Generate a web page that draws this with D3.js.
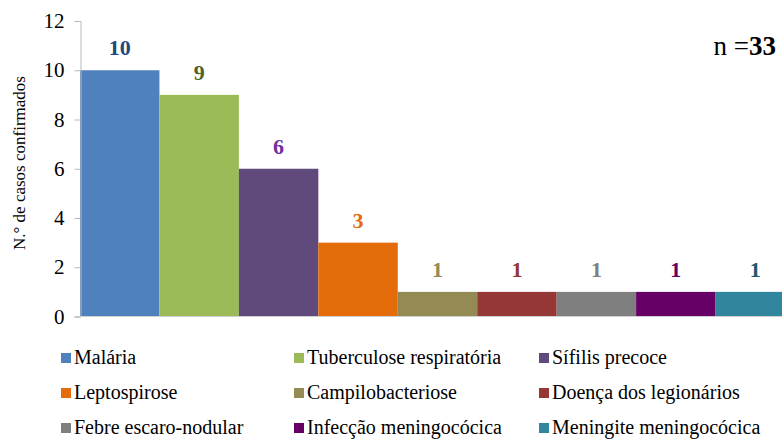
<!DOCTYPE html>
<html>
<head>
<meta charset="utf-8">
<script src="https://cdn.jsdelivr.net/npm/d3@7"></script>
</head>
<body style="margin:0">
<script>
// data
var diseases = ["Malária", "Tuberculose respiratória", "Sífilis precoce", "Leptospirose",
  "Campilobacteriose", "Doença dos legionários", "Febre escaro-nodular",
  "Infecção meningocócica", "Meningite meningocócica"];
var cases = [10, 9, 6, 3, 1, 1, 1, 1, 1];
var yTicks = [0, 2, 4, 6, 8, 10, 12];
var totalN = 33;

var barColors = ["#4F81BD", "#9BBB59", "#604A7B", "#E46C0A", "#948A54", "#953735", "#7F7F7F", "#660066", "#31859C"];
var labelColors = ["#1F497D", "#4F6228", "#7030A0", "#E46C0A", "#948A54", "#953735", "#7F7F7F", "#660066", "#215968"];

var FONT = "'Liberation Serif'";
var W = 782, H = 439;
var margin = { top: 21, left: 80, bottom: 123 };
var plotRight = 795; // last bar runs off the edge

var svg = d3.select("body").append("svg")
  .attr("width", W)
  .attr("height", H)
  .attr("font-family", "Liberation Serif");

var x = d3.scaleBand()
  .domain(diseases)
  .range([margin.left, plotRight])
  .padding(0);

var y = d3.scaleLinear()
  .domain([0, 12])
  .range([H - margin.bottom + 0.5, margin.top]);

// bars
svg.selectAll(".bar")
  .data(cases)
  .enter().append("rect")
  .attr("class", "bar")
  .attr("x", function (d, i) { return x(diseases[i]); })
  .attr("y", function (d) { return y(d); })
  .attr("width", x.bandwidth())
  .attr("height", function (d) { return y(0) - y(d); })
  .attr("fill", function (d, i) { return barColors[i]; });

// y axis
var yAxis = d3.axisLeft(y)
  .tickValues(yTicks)
  .tickSize(6)
  .tickPadding(10);

var gy = svg.append("g")
  .attr("transform", "translate(" + (margin.left + 0.5) + ",0)")
  .call(yAxis)
  .attr("font-family", "Liberation Serif")
  .attr("font-size", 21);
gy.select(".domain").attr("stroke", "#b8b8b8");
gy.selectAll(".tick line").attr("stroke", "#b8b8b8");
gy.selectAll(".tick text")
  .attr("fill", "#000")
  .style("font-family", FONT)
  .style("font-size", "21px");

// baseline
svg.append("line")
  .attr("x1", margin.left)
  .attr("x2", W)
  .attr("y1", y(0))
  .attr("y2", y(0))
  .attr("stroke", "#d0d0d0");

// y title
svg.append("text")
  .attr("transform", "translate(25," + 163 + ") rotate(-90)")
  .attr("text-anchor", "middle")
  .style("font-family", FONT)
  .style("font-size", "17px")
  .text("N.° de casos confirmados");

// value labels
svg.selectAll(".val")
  .data(cases)
  .enter().append("text")
  .attr("class", "val")
  .attr("x", function (d, i) { return x(diseases[i]) + x.bandwidth() / 2; })
  .attr("y", function (d) { return y(d) - 15; })
  .attr("text-anchor", "middle")
  .attr("fill", function (d, i) { return labelColors[i]; })
  .style("font-family", FONT)
  .style("font-size", "22px")
  .style("font-weight", "bold")
  .text(function (d) { return d; });

// n = 33
var nText = svg.append("text")
  .attr("x", 776)
  .attr("y", 55)
  .attr("text-anchor", "end")
  .style("font-family", FONT)
  .style("font-size", "27px");
nText.append("tspan").text("n =");
nText.append("tspan").style("font-weight", "bold").text(totalN);

// legend, 3 columns
var legX = [61, 294, 539], legY = [358, 393, 428];
var leg = svg.selectAll(".leg")
  .data(diseases)
  .enter().append("g")
  .attr("class", "leg")
  .attr("transform", function (d, i) {
    return "translate(" + legX[i % 3] + "," + legY[Math.floor(i / 3)] + ")";
  });
leg.append("rect")
  .attr("x", 0)
  .attr("y", -5)
  .attr("width", 10)
  .attr("height", 10)
  .attr("fill", function (d, i) { return barColors[i]; });
leg.append("text")
  .attr("x", 13)
  .attr("y", 6)
  .style("font-family", FONT)
  .style("font-size", "20px")
  .text(function (d) { return d; });
</script>
</body>
</html>
